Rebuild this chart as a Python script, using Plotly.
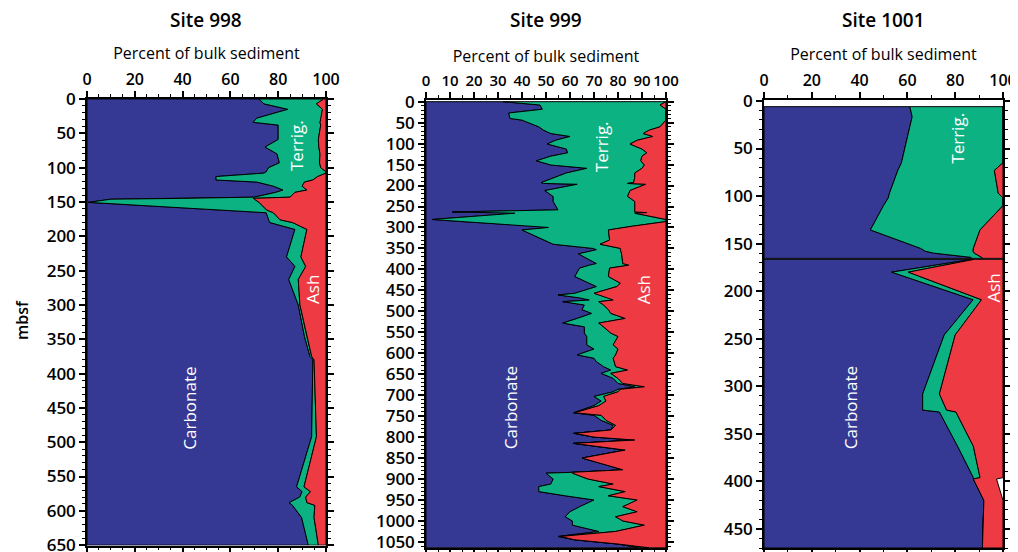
import plotly.graph_objects as go

# ---------------- data ----------------
# Site 998: depth (mbsf), carbonate %, carbonate+terrigenous %
S998_DEPTH = [0, 7, 15, 28, 34, 38, 59, 70, 80, 93,
              100, 106, 108, 113, 118, 121, 127, 132.6, 136, 143,
              144.8, 146, 150.6, 161.8, 165.7, 176, 180, 190, 230, 244,
              263, 300, 346, 375, 380, 492, 565, 572, 580, 588,
              592, 609.8, 650]
S998_CARB = [72, 74, 84, 71, 69.5, 80, 80, 74.5, 79.5, 80.5,
             76, 75, 74, 54, 54, 71, 78, 82, 79, 70,
             40, 10, 0.5, 56, 75, 76, 76.5, 87, 83.5, 87,
             84.4, 88.4, 91, 93.3, 94.5, 94, 87.7, 90, 89, 84.6,
             86, 89.8, 92.6]
S998_CT = [99, 96, 98.5, 98, 97.5, 97.8, 96.8, 97, 97.5, 97.3,
           97.8, 100, 100, 96.5, 94.5, 91, 90, 92, 87, 85,
           69.6, 70, 72, 75.2, 78, 80.8, 86, 92, 89.5, 91.5,
           88.4, 89.1, 92, 94, 95, 96, 90.8, 93.5, 91.5, 92,
           95.3, 95, 96.8]

# Site 999
S999 = [
    (0, 32, 100), (8, 47.5, 97.5), (18, 48.5, 100), (27, 34.5, 100), (40, 35, 100),
    (44, 40, 100), (60, 47, 97.5), (68, 49, 93), (76, 52, 90.5), (83, 60, 94.5),
    (92, 54, 88), (101, 50.5, 85), (113, 58.5, 90), (122, 59, 92), (130, 52, 90),
    (141, 46, 89.5), (151, 52, 91), (159, 67, 90), (170, 58.5, 87), (180, 54, 87),
    (193, 48, 86.5), (195, 49, 84), (197, 63, 91.5), (212, 49.5, 85), (226, 53, 84),
    (238, 53, 87), (258, 55, 87), (263, 11, 87), (264.5, 37, 92), (266, 37, 87),
    (281, 2.5, 100), (286, 15, 100), (297, 46, 86), (300, 51, 82), (306, 40, 76),
    (330, 49, 76.5), (340, 53, 72.5), (350, 69.5, 81), (353, 71, 81), (363, 63.5, 81.5),
    (386, 71, 82), (390, 68, 84.5), (397, 64, 76.5), (417, 62, 76), (433, 68, 81),
    (441, 71, 79.5), (457, 62, 70), (461, 55, 72), (468, 64, 76), (473, 68, 78),
    (477, 57, 72), (485, 66, 74), (496, 65, 76), (505, 69, 77), (517, 63, 83),
    (528, 57, 72), (537, 66, 74), (552, 66, 77), (560, 67, 80), (580, 67, 78),
    (590, 70, 80), (604, 63, 79), (612, 70, 78), (620, 71, 78.5), (632, 74, 79),
    (640, 77, 84), (648, 73, 77), (660, 78, 80), (672, 80, 82), (680, 87, 91),
    (686, 80, 81), (692, 78, 80), (703, 70, 74), (714, 73, 75), (725, 70, 72),
    (742, 61.5, 62), (748, 70, 73), (760, 73, 75), (772, 78, 79), (783, 77, 77),
    (791, 61.5, 62), (800, 70, 70), (807, 87, 87), (815, 61.5, 61.5), (823, 72, 72),
    (831, 83, 83), (850, 65, 65), (870, 78, 78), (878, 82, 82), (884, 61, 61),
    (886, 50, 61), (900, 53, 67.5), (912, 52, 78), (918, 47, 72), (930, 47, 83),
    (940, 58, 76), (950, 70, 88), (966, 64, 82), (978, 60, 88), (990, 58, 79),
    (1000, 61, 82), (1010, 61, 91), (1025, 72, 79), (1037, 55, 56), (1045, 62, 62),
    (1055, 80, 80), (1064, 89, 93),
]
S999_DEPTH = [r[0] for r in S999]
S999_CARB = [r[1] for r in S999]
S999_CT = [r[2] for r in S999]

# Site 1001 (two intervals separated by a hiatus)
S1001_DEPTH_A = [6, 16.5, 65, 73, 97, 102, 110, 135.6, 155, 158, 160, 164.4, 165.5]
S1001_CARB_A = [61, 62, 57.5, 56, 52.5, 52, 50, 44.5, 65.5, 67.5, 71, 86.5, 87]
S1001_CT_A = [100, 100, 100, 96.4, 98, 100, 100, 90.4, 87.6, 87.5, 88, 91, 91.6]
S1001_TOT_A = [100] * len(S1001_DEPTH_A)

S1001_DEPTH_B = [166.5, 180, 209, 246, 308, 325, 327, 363, 396, 397.5, 420, 470]
S1001_CARB_B = [87, 53.4, 87.5, 75.4, 66.4, 66.4, 73.4, 81, 87.6, 87.6, 92, 91.4]
S1001_CT_B = [88, 60.4, 91, 80, 73.4, 76.4, 80.3, 87.6, 90.4, 87.6, 92, 91.4]
S1001_TOT_B = [100, 100, 100, 100, 100, 100, 100, 100, 100, 97.3, 100, 100]

BLUE = "#353994"
GREEN = "#0DB283"
RED = "#EE3B43"
FONT = "Open Sans"

fig = go.Figure()


def polygon(depths, left, right):
    xs = list(left) + list(reversed(right)) + [left[0]]
    ys = list(depths) + list(reversed(depths)) + [depths[0]]
    return xs, ys


def add_band(segments, color, xa, ya):
    X, Y = [], []
    for depths, left, right in segments:
        xs, ys = polygon(depths, left, right)
        if X:
            X.append(None)
            Y.append(None)
        X += xs
        Y += ys
    fig.add_trace(go.Scatter(x=X, y=Y, mode="lines", fill="toself", fillcolor=color,
                             line=dict(color="black", width=1), xaxis=xa, yaxis=ya,
                             hoverinfo="skip", showlegend=False, connectgaps=False))


def add_site(segs, xa, ya):
    # segs: list of (depths, carb, ct, tot)
    add_band([(d, [0] * len(d), c) for d, c, ct, t in segs], BLUE, xa, ya)
    add_band([(d, c, ct) for d, c, ct, t in segs], GREEN, xa, ya)
    add_band([(d, ct, t) for d, c, ct, t in segs], RED, xa, ya)


add_site([(S998_DEPTH, S998_CARB, S998_CT, [100] * len(S998_DEPTH))], "x", "y")
add_site([(S999_DEPTH, S999_CARB, S999_CT, [100] * len(S999_DEPTH))], "x2", "y2")
add_site([(S1001_DEPTH_A, S1001_CARB_A, S1001_CT_A, S1001_TOT_A),
          (S1001_DEPTH_B, S1001_CARB_B, S1001_CT_B, S1001_TOT_B)], "x3", "y3")

# the page body has an 8px margin, so the figure is drawn 8px in from the window corner
OFF = 8
W, H = 1018 - OFF, 552 - OFF


def xd(a, b):
    return [(a - OFF) / W, (b - OFF) / W]


def yd(top, bottom):
    return [1 - (bottom - OFF) / H, 1 - (top - OFF) / H]


def px(x):
    return (x - OFF) / W


def py(y):
    return 1 - (y - OFF) / H


def axis_common(size):
    return dict(showline=True, linecolor="black", linewidth=1.5, mirror="ticks",
                ticks="outside", ticklen=6, tickwidth=1.5, tickcolor="black",
                showgrid=False, zeroline=False, automargin=False, tickangle=0,
                ticklabeloverflow="allow",
                tickfont=dict(family=FONT, size=size, color="black", weight=600))


def xaxis(domain, dtick, minor, anchor, size=16):
    return dict(axis_common(size), domain=domain, range=[0, 100], side="top", dtick=dtick, tick0=0,
                anchor=anchor,
                minor=dict(dtick=minor, ticks="outside", ticklen=3, tickwidth=1, tickcolor="black",
                           showgrid=False),
                title=dict(text="Percent of bulk sediment", standoff=4,
                           font=dict(family=FONT, size=16, color="black", weight=500)))


def yaxis(domain, rng, anchor):
    return dict(axis_common(17), domain=domain, range=rng, dtick=50, tick0=0, anchor=anchor,
                minor=dict(dtick=10, ticks="outside", ticklen=3, tickwidth=1, tickcolor="black",
                           showgrid=False))


fig.update_layout(
    width=W, height=H, margin=dict(l=0, r=0, t=0, b=0),
    paper_bgcolor="white", plot_bgcolor="white", showlegend=False,
    xaxis=xaxis(xd(87, 326), 20, 5, "y"),
    yaxis=yaxis(yd(99, 545.5), [650.5, 0], "x"),
    xaxis2=xaxis(xd(426, 666), 10, 5, "y2", size=15),
    yaxis2=yaxis(yd(100, 548), [1064.5, -4], "x2"),
    xaxis3=xaxis(xd(764, 1003), 20, 10, "y3"),
    yaxis3=yaxis(yd(100, 548), [470, -1], "x3"),
)

ann = []
for title, cx in [("Site 998", 206), ("Site 999", 546), ("Site 1001", 883)]:
    ann.append(dict(text=title, x=px(cx), y=py(20), xref="paper", yref="paper",
                    xanchor="center", yanchor="middle", showarrow=False,
                    font=dict(family=FONT, size=19, color="black", weight=600)))
ann.append(dict(text="mbsf", x=px(22), y=py(320), xref="paper", yref="paper",
                xanchor="center", yanchor="middle", showarrow=False, textangle=-90,
                font=dict(family=FONT, size=16, color="black", weight=600)))

labels = [
    ("x", "y", "Terrig.", 87.6, 68), ("x", "y", "Ash", 94.6, 278), ("x", "y", "Carbonate", 43, 450),
    ("x2", "y2", "Terrig.", 73.2, 107), ("x2", "y2", "Ash", 90.6, 449), ("x2", "y2", "Carbonate", 35, 731),
    ("x3", "y3", "Terrig.", 80.6, 39), ("x3", "y3", "Ash", 95.9, 197), ("x3", "y3", "Carbonate", 36, 323),
]
for xa, ya, t, xv, yv in labels:
    ann.append(dict(text=t, x=xv, y=yv, xref=xa, yref=ya, showarrow=False, textangle=-90,
                    xanchor="center", yanchor="middle",
                    font=dict(family=FONT, size=17, color="white")))
fig.update_layout(annotations=ann)

# keep the page from growing scrollbars (the 8px body margin makes it slightly taller than the window)
fig.write_html("out.html", post_script="document.body.style.overflow='hidden';")
